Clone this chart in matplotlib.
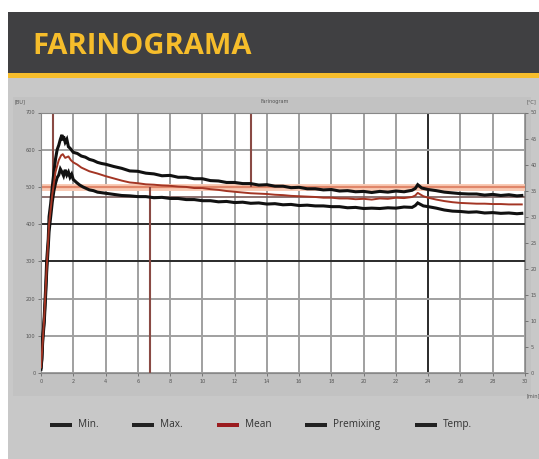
import matplotlib
matplotlib.use("Agg")
import matplotlib.pyplot as plt
from matplotlib.patches import Rectangle

# ---------------- data ----------------
title = "FARINOGRAMA"
chart_title = "Farinogram"
x_ticks = list(range(0, 31, 2))
y_ticks = list(range(0, 701, 100))
temp_ticks = list(range(0, 51, 5))

t_max = [0.0, 0.05, 0.1, 0.15, 0.2, 0.3, 0.35, 0.45, 0.5, 0.6, 0.7, 0.8, 0.9, 1.0, 1.1, 1.2,
         1.3, 1.35, 1.4, 1.5, 1.6, 1.7, 1.8, 2.0, 2.25, 2.5, 2.75, 3.0, 3.25, 3.5, 3.75, 4.0,
         4.5, 5.0, 5.5, 6.0, 6.5, 7.0, 7.5, 8.0, 8.5, 9.0, 9.5, 10.0, 10.5, 11.0, 11.5, 12.0,
         12.5, 13.0, 13.5, 14.0, 14.5, 15.0, 15.5, 16.0, 16.5, 17.0, 17.5, 18.0, 18.5, 19.0,
         19.5, 20.0, 20.5, 21.0, 21.5, 22.0, 22.5, 23.0, 23.2, 23.35, 23.6, 24.0, 24.5, 25.0,
         25.5, 26.0, 26.5, 27.0, 27.5, 28.0, 28.5, 29.0, 29.5, 29.8]
bu_max = [15, 40, 95, 120, 150, 240, 300, 360, 420, 455, 500, 540, 575, 600, 612, 628,
          640, 625, 636, 620, 628, 608, 604, 593, 590, 583, 580, 574, 571, 566, 563, 561,
          555, 550, 543, 542, 537, 535, 530, 531, 526, 526, 522, 522, 517, 516, 512, 512,
          509, 509, 505, 506, 502, 502, 498, 499, 495, 495, 492, 493, 489, 490, 487,
          488, 485, 488, 486, 489, 487, 491, 496, 506, 497, 493, 490, 486,
          484, 482, 481, 481, 478, 480, 477, 479, 476, 477]

t_mean = [0.0, 0.1, 0.2, 0.35, 0.5, 0.7, 0.9, 1.1, 1.25, 1.35, 1.5, 1.7, 1.85, 2.0, 2.25, 2.5,
          2.75, 3.0, 3.5, 4.0, 4.5, 5.0, 5.5, 6.0, 6.5, 7.0, 7.5, 8.0, 8.5, 9.0, 9.5, 10.0,
          10.5, 11.0, 11.5, 12.0, 12.5, 13.0, 13.5, 14.0, 14.5, 15.0, 15.5, 16.0, 16.5, 17.0,
          17.5, 18.0, 18.5, 19.0, 19.5, 20.0, 20.5, 21.0, 21.5, 22.0, 22.5, 23.0, 23.2, 23.35,
          23.7, 24.0, 24.5, 25.0, 25.5, 26.0, 26.5, 27.0, 27.5, 28.0, 28.5, 29.0, 29.5, 29.8]
bu_mean = [15, 80, 150, 280, 400, 480, 540, 572, 585, 588, 578, 582, 572, 566, 560, 552,
           547, 542, 536, 529, 523, 517, 512, 510, 507, 506, 504, 503, 501, 500, 497, 497,
           494, 492, 489, 487, 485, 483, 482, 481, 479, 478, 476, 475, 474, 473,
           471, 471, 469, 469, 467, 468, 466, 469, 468, 471, 470, 473, 477, 484,
           475, 471, 466, 462, 459, 457, 456, 455, 455, 454, 454, 453, 453, 453]

t_min = [0.0, 0.05, 0.1, 0.15, 0.2, 0.3, 0.35, 0.45, 0.5, 0.6, 0.7, 0.8, 0.9, 1.0, 1.1, 1.2,
         1.3, 1.4, 1.5, 1.6, 1.7, 1.8, 1.9, 2.0, 2.2, 2.4, 2.6, 2.8, 3.0, 3.25, 3.5, 4.0,
         4.5, 5.0, 5.5, 6.0, 6.5, 7.0, 7.5, 8.0, 8.5, 9.0, 9.5, 10.0, 10.5, 11.0, 11.5, 12.0,
         12.5, 13.0, 13.5, 14.0, 14.5, 15.0, 15.5, 16.0, 16.5, 17.0, 17.5, 18.0, 18.5, 19.0,
         19.5, 20.0, 20.5, 21.0, 21.5, 22.0, 22.5, 23.0, 23.2, 23.35, 23.7, 24.0, 24.5, 25.0,
         25.5, 26.0, 26.5, 27.0, 27.5, 28.0, 28.5, 29.0, 29.5, 29.8]
bu_min = [10, 35, 80, 110, 135, 220, 270, 340, 380, 420, 460, 490, 510, 525, 532, 548,
          540, 530, 546, 532, 540, 526, 534, 520, 512, 505, 500, 496, 492, 490, 486, 483,
          480, 477, 476, 474, 474, 471, 472, 469, 469, 466, 466, 463, 463, 460, 461, 458,
          459, 456, 457, 454, 455, 452, 453, 450, 451, 449, 449, 447, 447, 444,
          445, 442, 443, 442, 444, 443, 446, 445, 450, 457, 449, 447, 443, 438,
          435, 434, 432, 433, 430, 431, 429, 430, 428, 429]

target_bu = 500
lower_bu = 472
dev_lines = [0.75, 6.75, 13.0]   # minutes

legend_labels = ["Min.", "Max.", "Mean", "Premixing", "Temp."]
legend_colors = ["#222222", "#222222", "#9b1c1f", "#222222", "#222222"]

# ---------------- figure ----------------
W, H = 539, 459
fig = plt.figure(figsize=(W / 100, H / 100), dpi=100)
fig.patch.set_facecolor("white")

def frect(x0, y0, x1, y1, color, z=-5):
    fig.patches.append(Rectangle((x0 / W, 1 - y1 / H), (x1 - x0) / W, (y1 - y0) / H,
                                 transform=fig.transFigure, facecolor=color,
                                 edgecolor="none", lw=0, zorder=z))

frect(8, 12, 539, 73, "#404042")
frect(8, 73, 539, 77.5, "#f6bd2b")
frect(8, 77.5, 539, 459, "#c8c8c8")
frect(13, 97, 531, 396, "#c2c2c2")

fig.text(32 / W, 1 - 47 / H, title, color="#f6bd2b", fontsize=21, fontweight="bold",
         family="Open Sans", va="center", ha="left")

small = dict(fontsize=3.6, color="#555555", family="DejaVu Sans")
fig.text(15 / W, 1 - 102 / H, "[BU]", ha="left", va="center", **small)
fig.text(275 / W, 1 - 102 / H, chart_title, ha="center", va="center", **small)
fig.text(527 / W, 1 - 102 / H, "[°C]", ha="left", va="center", **small)
fig.text(527 / W, 1 - 396 / H, "[min]", ha="left", va="center", **small)

ax = fig.add_axes([41 / W, 1 - 373 / H, 484 / W, 260.5 / H])
ax.set_zorder(2)
ax.set_facecolor("white")
ax.set_xlim(0, 30)
ax.set_ylim(0, 700)

# grid
for xv in x_ticks:
    c = "#2a2a2a" if xv == 24 else "#a0a0a0"
    ax.axvline(xv, color=c, lw=1.4, zorder=1)
for yv in y_ticks:
    c = "#2a2a2a" if yv in (300, 400) else "#a0a0a0"
    ax.axhline(yv, color=c, lw=1.4, zorder=1)

ax.axhline(target_bu, color="#f9cbb5", lw=5, zorder=2)
ax.axhline(target_bu, color="#e0866a", lw=1.6, zorder=2)
ax.axhline(lower_bu, color="#7a5a58", lw=1.2, zorder=2)

ax.vlines(dev_lines[0], target_bu, 700, color="#8a4a44", lw=1.5, zorder=2)
ax.vlines(dev_lines[1], 0, target_bu, color="#8a4a44", lw=1.5, zorder=2)
ax.vlines(dev_lines[2], target_bu, 700, color="#8a4a44", lw=1.5, zorder=2)

ax.plot(t_max, bu_max, color="#111111", lw=2.2, zorder=4, solid_joinstyle="miter")
ax.plot(t_min, bu_min, color="#111111", lw=2.2, zorder=4, solid_joinstyle="miter")
ax.plot(t_mean, bu_mean, color="#a33524", lw=1.4, zorder=5)

ax.set_xticks(x_ticks)
ax.set_yticks(y_ticks)
ax.tick_params(axis="both", labelsize=3.6, labelcolor="#555555", length=2, width=0.6,
               color="#666666", pad=2)
for s in ax.spines.values():
    s.set_color("#888888")
    s.set_linewidth(0.8)

ax2 = ax.twinx()
ax2.set_ylim(0, 50)
ax2.set_yticks(temp_ticks)
ax2.tick_params(axis="y", labelsize=3.6, labelcolor="#555555", length=2, width=0.6,
                color="#666666", pad=2)
for s in ax2.spines.values():
    s.set_visible(False)

# legend
leg_patch_x = [50, 132, 217, 305, 415]
for lab, col, px in zip(legend_labels, legend_colors, leg_patch_x):
    frect(px, 422.5, px + 22, 426.5, col, z=3)
    fig.text((px + 28) / W, 1 - 424.5 / H, lab, fontsize=7.2, color="#333333",
             family="Open Sans", va="center", ha="left")

fig.savefig("out.png", dpi=100)
